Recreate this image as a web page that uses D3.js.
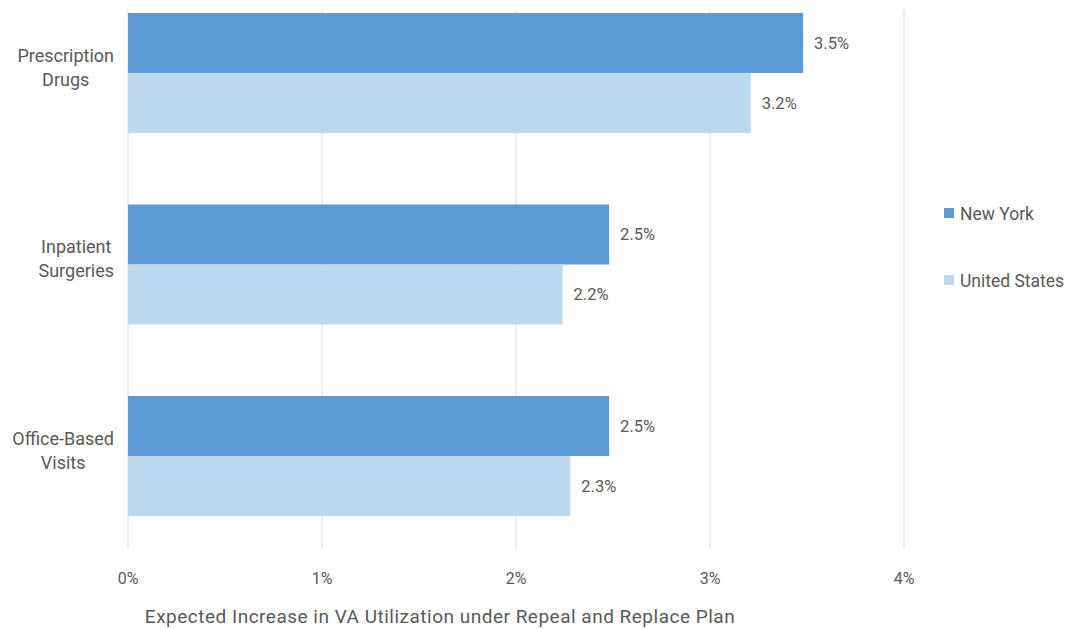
<!DOCTYPE html>
<html>
<head>
<meta charset="utf-8">
<script src="https://cdn.jsdelivr.net/npm/d3@7"></script>
<style>
  body { margin: 0; background: #fff; }
  text { font-family: Roboto, "Noto Sans", sans-serif; fill: #595959; }
</style>
</head>
<body>
<div id="chart-area"></div>
<script>
const categories = [['Prescription', 'Drugs'], ['Inpatient', 'Surgeries'], ['Office-Based', 'Visits']]
const seriesNames = ['New York', 'United States']
const newYork = [3.48, 2.48, 2.48]
const unitedStates = [3.21, 2.24, 2.28]
const xTicks = [0, 1, 2, 3, 4]
const colors = ['#5b9bd5', '#bdd7ee']

const width = 1071
const height = 629

const svg = d3.select('#chart-area')
  .append('svg')
    .attr('width', width)
    .attr('height', height)

const x = d3.scaleLinear()
  .domain([0, 4])
  .range([128, 904])

const y = d3.scaleBand()
  .domain(categories.map(c => c.join(' ')))
  .range([13, 516])
  .paddingInner(0.3734)
  .paddingOuter(0)

const sub = d3.scaleBand()
  .domain(seriesNames)
  .range([0, y.bandwidth()])

// gridlines
svg.append('g')
  .selectAll('line')
  .data(xTicks)
  .enter()
  .append('line')
    .attr('x1', d => x(d))
    .attr('x2', d => x(d))
    .attr('y1', 10)
    .attr('y2', 548)
    .attr('stroke', '#d9d9d9')
    .attr('stroke-width', 1)

// tick labels
svg.append('g')
  .selectAll('text')
  .data(xTicks)
  .enter()
  .append('text')
    .attr('x', d => x(d))
    .attr('y', 584)
    .attr('text-anchor', 'middle')
    .attr('font-size', '16px')
    .text(d => d + '%')

const rows = categories.map((c, i) => ({
  key: c.join(' '),
  lines: c,
  values: [newYork[i], unitedStates[i]]
}))

const groups = svg.selectAll('.group')
  .data(rows)
  .enter()
  .append('g')
    .attr('class', 'group')
    .attr('transform', d => `translate(0,${y(d.key)})`)

groups.selectAll('rect')
  .data(d => d.values.map((v, j) => ({ name: seriesNames[j], value: v, color: colors[j] })))
  .enter()
  .append('rect')
    .attr('x', x(0))
    .attr('y', d => sub(d.name))
    .attr('width', d => x(d.value) - x(0))
    .attr('height', sub.bandwidth())
    .attr('fill', d => d.color)

groups.selectAll('.val')
  .data(d => d.values.map((v, j) => ({ name: seriesNames[j], value: v })))
  .enter()
  .append('text')
    .attr('class', 'val')
    .attr('x', d => x(d.value) + 11)
    .attr('y', d => sub(d.name) + sub.bandwidth() / 2 + 6)
    .attr('font-size', '16.5px')
    .text(d => d.value.toFixed(1) + '%')

// category labels: lines centred in a block right-aligned at 114
const catLabels = groups.append('text')
    .attr('text-anchor', 'middle')
    .attr('font-size', '18px')

catLabels.selectAll('tspan')
    .data(d => d.lines)
    .enter()
    .append('tspan')
      .attr('y', (d, i) => y.bandwidth() / 2 - 17 + 6 + i * 24)
      .text(d => d)

catLabels.each(function() {
  const t = d3.select(this)
  let maxW = 0
  t.selectAll('tspan').each(function() {
    maxW = Math.max(maxW, this.getComputedTextLength())
  })
  t.selectAll('tspan').attr('x', 114 - maxW / 2)
})

// axis title
svg.append('text')
  .attr('x', 440)
  .attr('y', 623)
  .attr('text-anchor', 'middle')
  .attr('font-size', '19px')
  .attr('letter-spacing', '0.5px')
  .text('Expected Increase in VA Utilization under Repeal and Replace Plan')

// legend
const legend = svg.append('g')
  .selectAll('g')
  .data(seriesNames)
  .enter()
  .append('g')
    .attr('transform', (d, i) => `translate(944,${213 + i * 67})`)

legend.append('rect')
  .attr('x', 0)
  .attr('y', -5)
  .attr('width', 10)
  .attr('height', 10)
  .attr('fill', (d, i) => colors[i])

legend.append('text')
  .attr('x', 16)
  .attr('y', 6.5)
  .attr('font-size', '17.5px')
  .text(d => d)
</script>
</body>
</html>
